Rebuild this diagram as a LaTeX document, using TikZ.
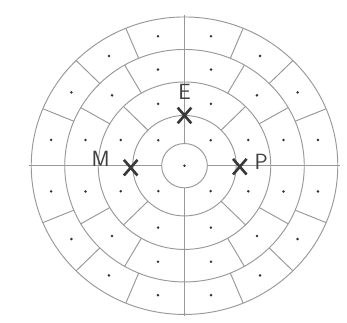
\documentclass[tikz,border=0pt]{standalone}
\usepackage{tikz}
\usetikzlibrary{shapes.misc,positioning}

\tikzset{
  ringline/.style={draw=black!40, line width=0.95pt},
  seed/.style={fill=black!80},
  mark cross/.style={cross out, draw=black!78, line width=2.6pt, minimum width=11pt, minimum height=13pt, inner sep=0pt},
  letter/.style={text=black!75, font=\sffamily\fontsize{22}{22}\selectfont, inner sep=0pt}
}

\begin{document}
\begin{tikzpicture}[x=1.015pt,y=0.985pt]
    \useasboundingbox[fill=white] (0pt,0pt) rectangle (347pt,322pt);
    \begin{scope}[shift={(184.5pt,156.3pt)}]
        % rings
        \foreach \r in {22.5,51,85,118,151}
            \draw[ringline] (0,0) circle[radius=\r];
        % axes
        \foreach \a in {0,90,180,270}
            \draw[ringline] (\a:22.5) -- (\a:153);
        % cell walls
        \foreach \a in {45,135,225,315}
            \draw[ringline] (\a:51) -- (\a:85);
        \foreach \a in {30,60,120,150,210,240,300,330}
            \draw[ringline] (\a:85) -- (\a:118);
        \foreach \a in {22.5,45,67.5,112.5,135,157.5,202.5,225,247.5,292.5,315,337.5}
            \draw[ringline] (\a:118) -- (\a:151);
        % dots
        \fill[seed] (0,0) circle (1.4pt);
        \foreach \a in {45,135,225,315}
            \fill[seed] (\a:36.5) circle (1.4pt);
        \foreach \k in {0,...,7}
            \fill[seed] (22.5+45*\k:68) circle (1.4pt);
        \foreach \k in {0,...,11}
            \fill[seed] (15+30*\k:101) circle (1.4pt);
        \foreach \k in {0,...,15}
            \fill[seed] (11.25+22.5*\k:134) circle (1.4pt);
        % marked points
        \node[mark cross] (xE) at (0,51) {};
        \node[mark cross] (xM) at (-53,-2) {};
        \node[mark cross] (xP) at (54.5,-1) {};
        \node[letter] (E) at (0,75) {E};
        \node[letter] (M) at (-82.5,7) {M};
        \node[letter] (P) at (75.5,4) {P};
    \end{scope}
\end{tikzpicture}
\end{document}
